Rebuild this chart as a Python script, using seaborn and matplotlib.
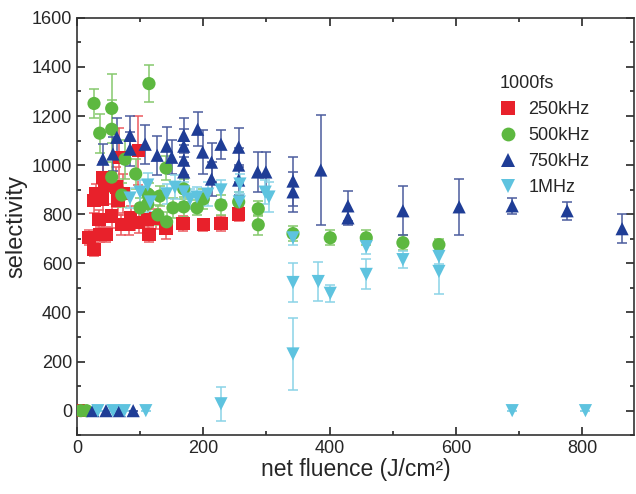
import matplotlib
matplotlib.use("Agg")
import matplotlib.pyplot as plt
import seaborn as sns
import pandas as pd
from matplotlib.ticker import MultipleLocator

# 250kHz series: fluence, selectivity, error
red_x = [2, 19, 27, 27, 30, 36, 35, 41, 41, 43, 46, 55, 62, 65, 67, 70, 73, 82, 85, 97,
         98, 112, 114, 125, 141, 168, 200, 228, 256]
red_y = [0, 704, 656, 855, 883, 717, 777, 862, 951, 919, 717, 793, 911, 858, 1032, 757, 883, 757, 785, 1061,
         765, 777, 717, 781, 741, 761, 757, 761, 801]
red_e = [0, 30, 25, 50, 40, 30, 40, 60, 60, 50, 30, 50, 80, 60, 120, 40, 80, 40, 50, 140,
         40, 60, 30, 40, 40, 30, 25, 30, 30]

# 500kHz series
green_x = [6, 15, 27, 36, 55, 55, 55, 71, 76, 93, 100, 112, 112, 114, 114, 128, 131, 141, 142, 152,
           169, 169, 190, 200, 228, 256, 287, 287, 342, 401, 458, 516, 573]
green_y = [0, 0, 1251, 1130, 1231, 1146, 951, 878, 1024, 964, 826, 883, 842, 1332, 878, 797, 874, 988, 769, 826,
           903, 830, 826, 862, 838, 850, 822, 757, 721, 704, 704, 684, 676]
green_e = [0, 0, 60, 80, 140, 120, 60, 50, 80, 60, 40, 50, 40, 75, 50, 40, 40, 50, 40, 40,
           40, 40, 30, 40, 40, 40, 30, 40, 30, 30, 30, 30, 25]

# 750kHz series
blue_x = [25, 46, 67, 89, 41, 57, 63, 84, 84, 108, 127, 142, 150, 169, 169, 169, 169, 191, 199, 213,
          213, 228, 256, 256, 256, 286, 299, 342, 342, 386, 429, 429, 516, 605, 689, 776, 863]
blue_y = [0, 0, 0, 0, 1024, 1045, 1113, 1121, 1065, 1085, 1040, 1077, 1032, 1121, 1077, 1020, 972, 1146, 1053, 1012,
          943, 1085, 1073, 1000, 939, 972, 972, 935, 891, 980, 834, 785, 814, 830, 834, 814, 741]
blue_e = [0, 0, 0, 0, 60, 70, 80, 80, 70, 80, 80, 80, 70, 70, 70, 60, 60, 70, 90, 80,
          70, 60, 80, 70, 60, 80, 80, 100, 80, 225, 60, 30, 100, 113, 34, 37, 59]

# 1MHz series
cyan_x = [33, 57, 75, 109, 228, 84, 100, 112, 116, 142, 155, 169, 179, 190, 207, 228, 257, 258, 298, 304,
          342, 342, 342, 382, 401, 458, 458, 516, 573, 573, 689, 805]
cyan_y = [0, 0, 0, 0, 28, 866, 890, 919, 850, 883, 910, 891, 862, 870, 882, 899, 850, 923, 890, 870,
          704, 522, 231, 526, 478, 668, 555, 615, 628, 567, 0, 0]
cyan_e = [0, 0, 0, 0, 70, 40, 50, 50, 40, 40, 50, 40, 40, 40, 50, 40, 40, 40, 50, 60,
          30, 79, 145, 79, 35, 30, 61, 35, 30, 90, 0, 0]

labels = ["250kHz", "500kHz", "750kHz", "1MHz"]
colors = {"250kHz": "#e8212b", "500kHz": "#5db840", "750kHz": "#1f3d96", "1MHz": "#5ec3df"}
bar_colors = {"250kHz": "#ec5a5f", "500kHz": "#86c96e", "750kHz": "#4b5c9e", "1MHz": "#8ad3e7"}
markers = {"250kHz": "s", "500kHz": "o", "750kHz": "^", "1MHz": "v"}

frames = []
for lab, xs, ys, es in zip(labels, [red_x, green_x, blue_x, cyan_x], [red_y, green_y, blue_y, cyan_y],
                           [red_e, green_e, blue_e, cyan_e]):
    frames.append(pd.DataFrame({"fluence": xs, "selectivity": ys, "err": es, "rate": lab}))
df = pd.concat(frames, ignore_index=True)

sns.set_style("ticks")
plt.rcParams["font.family"] = ["Liberation Sans", "DejaVu Sans"]

fig = plt.figure(figsize=(6.36, 4.94), dpi=100)
ax = fig.add_axes([0.121, 0.119, 0.876, 0.845])

for lab in labels:
    d = df[df["rate"] == lab]
    ax.errorbar(d["fluence"], d["selectivity"], yerr=d["err"], fmt="none",
                ecolor=bar_colors[lab], elinewidth=1.1, capsize=3.5, capthick=1.1, zorder=2)

sns.scatterplot(data=df, x="fluence", y="selectivity", hue="rate", style="rate",
                palette=colors, markers=markers, hue_order=labels, style_order=labels,
                s=90, edgecolor="none", linewidth=0, ax=ax, zorder=3)

ax.set_xlim(0, 882)
ax.set_ylim(-100, 1600)
ax.xaxis.set_major_locator(MultipleLocator(200))
ax.xaxis.set_minor_locator(MultipleLocator(100))
ax.yaxis.set_major_locator(MultipleLocator(200))
ax.yaxis.set_minor_locator(MultipleLocator(100))
ax.tick_params(which="both", direction="in", top=True, right=True, labelsize=13, width=1.2)
ax.tick_params(which="major", length=6)
ax.tick_params(which="minor", length=3)
for sp in ax.spines.values():
    sp.set_linewidth(1.2)
    sp.set_color("#333333")

ax.set_xlabel("net fluence (J/cm²)", fontsize=16.5, labelpad=1)
ax.set_ylabel("selectivity", fontsize=17, labelpad=3)

leg = ax.legend(title="1000fs", frameon=False, loc="upper left", bbox_to_anchor=(0.745, 0.88),
                fontsize=13, title_fontsize=13, handlelength=1.0, handletextpad=0.6,
                labelspacing=0.5, borderaxespad=0, markerscale=1.05)
leg._legend_box.align = "left"

fig.savefig("out.png", dpi=100)
